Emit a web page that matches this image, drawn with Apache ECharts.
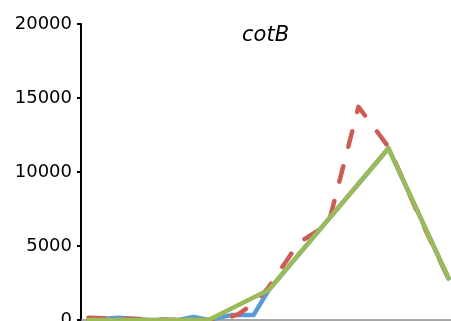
<!DOCTYPE html>
<html>
<head>
<meta charset="utf-8">
<script src="https://cdn.jsdelivr.net/npm/echarts@6/dist/echarts.min.js"></script>
<style>html,body{margin:0;padding:0;background:#fff;}#c{width:451px;height:321px;}</style>
</head>
<body>
<div id="c"></div>
<script>
var titleText = 'cotB';
var yTicks = [0, 5000, 10000, 15000, 20000];
// time points (x) and values
var blueX = [0, 1, 2, 3, 3.5, 4, 4.75, 5.5, 6, 10, 12];
var blueY = [0, 150, 0, 0, 200, 0, 330, 330, 2000, 11600, 2800];
var redX = [0, 1, 2, 3, 4, 4.5, 5, 5.5, 6, 7, 8, 9, 10, 11, 12];
var redY = [150, 100, 50, 0, 0, 50, 400, 1100, 2200, 5200, 6500, 14400, 11700, 7100, 2800];
var greenX = [0, 4, 6, 10, 12];
var greenY = [0, 0, 2020, 11600, 2840];

function pairs(xs, ys) { return xs.map(function (x, i) { return [x, ys[i]]; }); }

var chart = echarts.init(document.getElementById('c'), null, {renderer: 'canvas'});
chart.setOption({
  animation: false,
  backgroundColor: '#ffffff',
  grid: {left: 81, right: 0, top: 24, bottom: 1, containLabel: false, outerBoundsMode: 'none'},
  xAxis: {
    type: 'value', min: -0.25, max: 12.0833,
    axisLine: {show: true, onZero: false, lineStyle: {color: '#8a8a8a', width: 1.5}},
    axisTick: {show: false}, axisLabel: {show: false}, splitLine: {show: false}
  },
  yAxis: {
    type: 'value', min: yTicks[0], max: yTicks[yTicks.length - 1], interval: 5000,
    axisLine: {show: true, onZero: false, lineStyle: {color: '#000', width: 2}},
    axisTick: {show: true, length: 4, lineStyle: {color: '#000', width: 2}},
    axisLabel: {color: '#000', fontSize: 18, fontFamily: 'DejaVu Sans', margin: 9,
      formatter: function (v) { return String(v); }},
    splitLine: {show: false}
  },
  graphic: [{
    type: 'text', left: 242, top: 25,
    style: {text: titleText, font: 'italic 21px "DejaVu Sans"', fill: '#000'}
  }],
  series: [
    {type: 'line', data: pairs(blueX, blueY), showSymbol: false, clip: false, z: 2,
     lineStyle: {color: '#5B9BD5', width: 4.5, cap: 'round', join: 'round'}},
    {type: 'line', data: pairs(redX, redY), showSymbol: false, clip: false, z: 3,
     lineStyle: {color: '#CD5C55', width: 4.5, type: [16, 20], cap: 'round', join: 'round'}},
    {type: 'line', data: pairs(greenX, greenY), showSymbol: false, clip: false, z: 4,
     lineStyle: {color: '#9BBB59', width: 4.5, cap: 'round', join: 'round'}}
  ]
});
</script>
</body>
</html>
